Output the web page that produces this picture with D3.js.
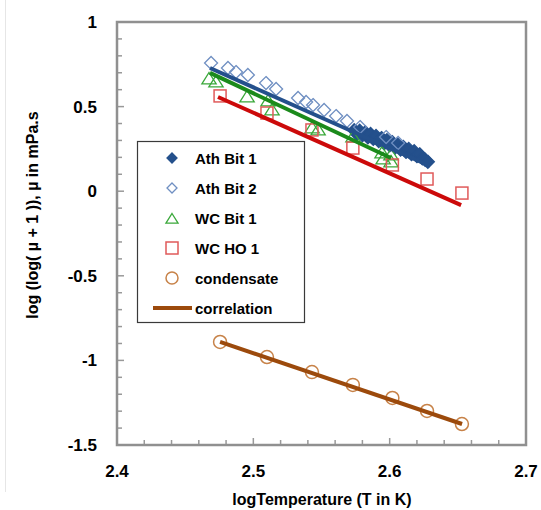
<!DOCTYPE html>
<html>
<head>
<meta charset="utf-8">
<script src="https://cdn.jsdelivr.net/npm/d3@7"></script>
<style>
  body { margin: 0; background: #fff; }
  svg { display: block; }
  text { font-family: "Liberation Sans", Arial, sans-serif; font-weight: bold; fill: #000; }
</style>
</head>
<body>
<svg width="541" height="510"></svg>
<script>
// values (x = log T, y = log(log(mu+1)))
const athBit1 = [
  [2.574, 0.360], [2.576, 0.338], [2.578, 0.358], [2.580, 0.330], [2.582, 0.348],
  [2.584, 0.318], [2.586, 0.338], [2.588, 0.309], [2.590, 0.326], [2.592, 0.296],
  [2.594, 0.314], [2.596, 0.283], [2.598, 0.302], [2.600, 0.271], [2.602, 0.290],
  [2.604, 0.258], [2.606, 0.275], [2.608, 0.246], [2.610, 0.262], [2.612, 0.232],
  [2.614, 0.250], [2.616, 0.219], [2.618, 0.236], [2.620, 0.207], [2.622, 0.218],
  [2.624, 0.194], [2.626, 0.186], [2.628, 0.174]
];
const athBit2 = [
  [2.469, 0.758], [2.4814, 0.728], [2.4873, 0.704], [2.496, 0.687], [2.5093, 0.639],
  [2.5167, 0.604], [2.5328, 0.551], [2.5387, 0.527], [2.5438, 0.509], [2.5519, 0.480],
  [2.5607, 0.444], [2.5687, 0.415], [2.5783, 0.379], [2.5974, 0.320], [2.6062, 0.285]
];
const wcBit1 = [
  [2.4675, 0.663], [2.4726, 0.645], [2.4954, 0.557], [2.5108, 0.533], [2.5137, 0.480],
  [2.5431, 0.374], [2.5475, 0.362], [2.5731, 0.320], [2.5944, 0.226], [2.6010, 0.214],
  [2.5952, 0.190], [2.6010, 0.173]
];
const tempsHO = [2.4756, 2.510, 2.543, 2.573, 2.602, 2.6274, 2.653];
const wcHO1 = [0.563, 0.462, 0.362, 0.255, 0.155, 0.072, -0.011];
const condensate = [-0.891, -0.980, -1.069, -1.145, -1.222, -1.299, -1.376];

// fitted lines, [start, end]
const fitAth = [[2.4682, 0.728], [2.6296, 0.149]];
const fitWC = [[2.4682, 0.699], [2.601, 0.196]];
const fitHO = [[2.4741, 0.557], [2.6524, -0.082]];
const fitCond = [[2.4756, -0.891], [2.6531, -1.376]];

const xTicks = [2.4, 2.5, 2.6, 2.7];
const yTicks = [1, 0.5, 0, -0.5, -1, -1.5];
const legendNames = ["Ath Bit 1", "Ath Bit 2", "WC Bit 1", "WC HO 1", "condensate", "correlation"];

const blue = "#24508c", lightBlue = "#6f8fc2", green = "#1b8a1b", lightGreen = "#3aa83a",
      red = "#cc0a0a", lightRed = "#e05a5a", brown = "#9c4a0c", lightBrown = "#c78248";

let svg = d3.select("svg");
let pLeft = 117, pRight = 526, pTop = 22, pBottom = 445;

let x = d3.scaleLinear().domain([2.4, 2.7]).range([pLeft, pRight]);
let y = d3.scaleLinear().domain([-1.5, 1]).range([pBottom, pTop]);

// faint edge line on the left of the picture
svg.append("line").attr("x1", 5.5).attr("x2", 5.5).attr("y1", 0).attr("y2", 492)
    .attr("stroke", "#e6e6e6");

// axes with inner ticks
let xMinor = d3.range(2.4, 2.7001, 0.02);
let yMinor = d3.range(-1.5, 1.0001, 0.1);

svg.append("g").selectAll("line").data(xMinor).enter().append("line")
    .attr("x1", d => x(d)).attr("x2", d => x(d))
    .attr("y1", pBottom).attr("y2", (d, i) => pBottom - (i % 5 === 0 ? 7 : 5))
    .attr("stroke", "#999").attr("stroke-width", 1.5);

svg.append("g").selectAll("line").data(yMinor).enter().append("line")
    .attr("y1", d => y(d)).attr("y2", d => y(d))
    .attr("x1", pLeft).attr("x2", (d, i) => pLeft + (i % 5 === 0 ? 7 : 5))
    .attr("stroke", "#999").attr("stroke-width", 1.5);

svg.append("rect")
    .attr("x", pLeft).attr("y", pTop)
    .attr("width", pRight - pLeft).attr("height", pBottom - pTop)
    .attr("fill", "none").attr("stroke", "#909090").attr("stroke-width", 2.5);

svg.append("g").selectAll("text").data(xTicks).enter().append("text")
    .attr("x", d => x(d)).attr("y", 477)
    .attr("text-anchor", "middle").attr("font-size", 17)
    .text(d => d3.format(".1f")(d));

svg.append("g").selectAll("text").data(yTicks).enter().append("text")
    .attr("x", 97).attr("y", d => y(d) + 6)
    .attr("text-anchor", "end").attr("font-size", 17)
    .text(d => d === 0 ? "0" : String(d));

svg.append("text")
    .attr("x", 322).attr("y", 505)
    .attr("text-anchor", "middle").attr("font-size", 16)
    .text("logTemperature (T in K)");

svg.append("text")
    .attr("transform", "translate(38,215) rotate(-90)")
    .attr("text-anchor", "middle").attr("font-size", 16)
    .text("log (log( \u00b5 + 1 )), \u00b5 in mPa.s");

// markers
function diamond(g, px, py, s, fill, stroke) {
    g.append("path")
        .attr("d", `M${px},${py - s}L${px + s},${py}L${px},${py + s}L${px - s},${py}Z`)
        .attr("fill", fill).attr("stroke", stroke).attr("stroke-width", 1.3);
}
function triangle(g, px, py, s, stroke) {
    g.append("path")
        .attr("d", `M${px},${py - s}L${px + s * 1.1},${py + s * 0.75}L${px - s * 1.1},${py + s * 0.75}Z`)
        .attr("fill", "none").attr("stroke", stroke).attr("stroke-width", 1.3);
}

let marks = svg.append("g");

athBit1.forEach(d => diamond(marks, x(d[0]), y(d[1]), 6.5, blue, blue));
athBit2.forEach(d => diamond(marks, x(d[0]), y(d[1]), 6.5, "none", lightBlue));
wcBit1.forEach(d => triangle(marks, x(d[0]), y(d[1]), 6.5, lightGreen));

marks.selectAll("rect.ho").data(tempsHO).enter().append("rect")
    .attr("x", d => x(d) - 6).attr("y", (d, i) => y(wcHO1[i]) - 6)
    .attr("width", 12).attr("height", 12)
    .attr("fill", "none").attr("stroke", lightRed).attr("stroke-width", 1.5);

marks.selectAll("circle").data(tempsHO).enter().append("circle")
    .attr("cx", d => x(d)).attr("cy", (d, i) => y(condensate[i]))
    .attr("r", 6.5)
    .attr("fill", "none").attr("stroke", lightBrown).attr("stroke-width", 1.5);

// correlation lines
let line = d3.line().x(d => x(d[0])).y(d => y(d[1]));
[[fitAth, blue], [fitWC, green], [fitHO, red], [fitCond, brown]].forEach(f => {
    svg.append("path").attr("d", line(f[0]))
        .attr("fill", "none").attr("stroke", f[1]).attr("stroke-width", 4);
});

// legend
let leg = svg.append("g");
leg.append("rect").attr("x", 137.5).attr("y", 141.5).attr("width", 167).attr("height", 181)
    .attr("fill", "#fff").attr("stroke", "#3a3a3a").attr("stroke-width", 1.2);

let rowY = d3.range(6).map(i => 158 + i * 30);
leg.selectAll("text").data(legendNames).enter().append("text")
    .attr("x", 195).attr("y", (d, i) => rowY[i] + 6)
    .attr("font-size", 15)
    .text(d => d);

diamond(leg, 172, rowY[0], 5, blue, blue);
diamond(leg, 172, rowY[1], 5, "none", lightBlue);
triangle(leg, 172, rowY[2] + 1, 5.5, lightGreen);
leg.append("rect").attr("x", 166).attr("y", rowY[3] - 6).attr("width", 12).attr("height", 12)
    .attr("fill", "none").attr("stroke", lightRed).attr("stroke-width", 1.5);
leg.append("circle").attr("cx", 172).attr("cy", rowY[4]).attr("r", 6)
    .attr("fill", "none").attr("stroke", lightBrown).attr("stroke-width", 1.5);
leg.append("line").attr("x1", 153).attr("x2", 192).attr("y1", rowY[5]).attr("y2", rowY[5])
    .attr("stroke", brown).attr("stroke-width", 4);
</script>
</body>
</html>
